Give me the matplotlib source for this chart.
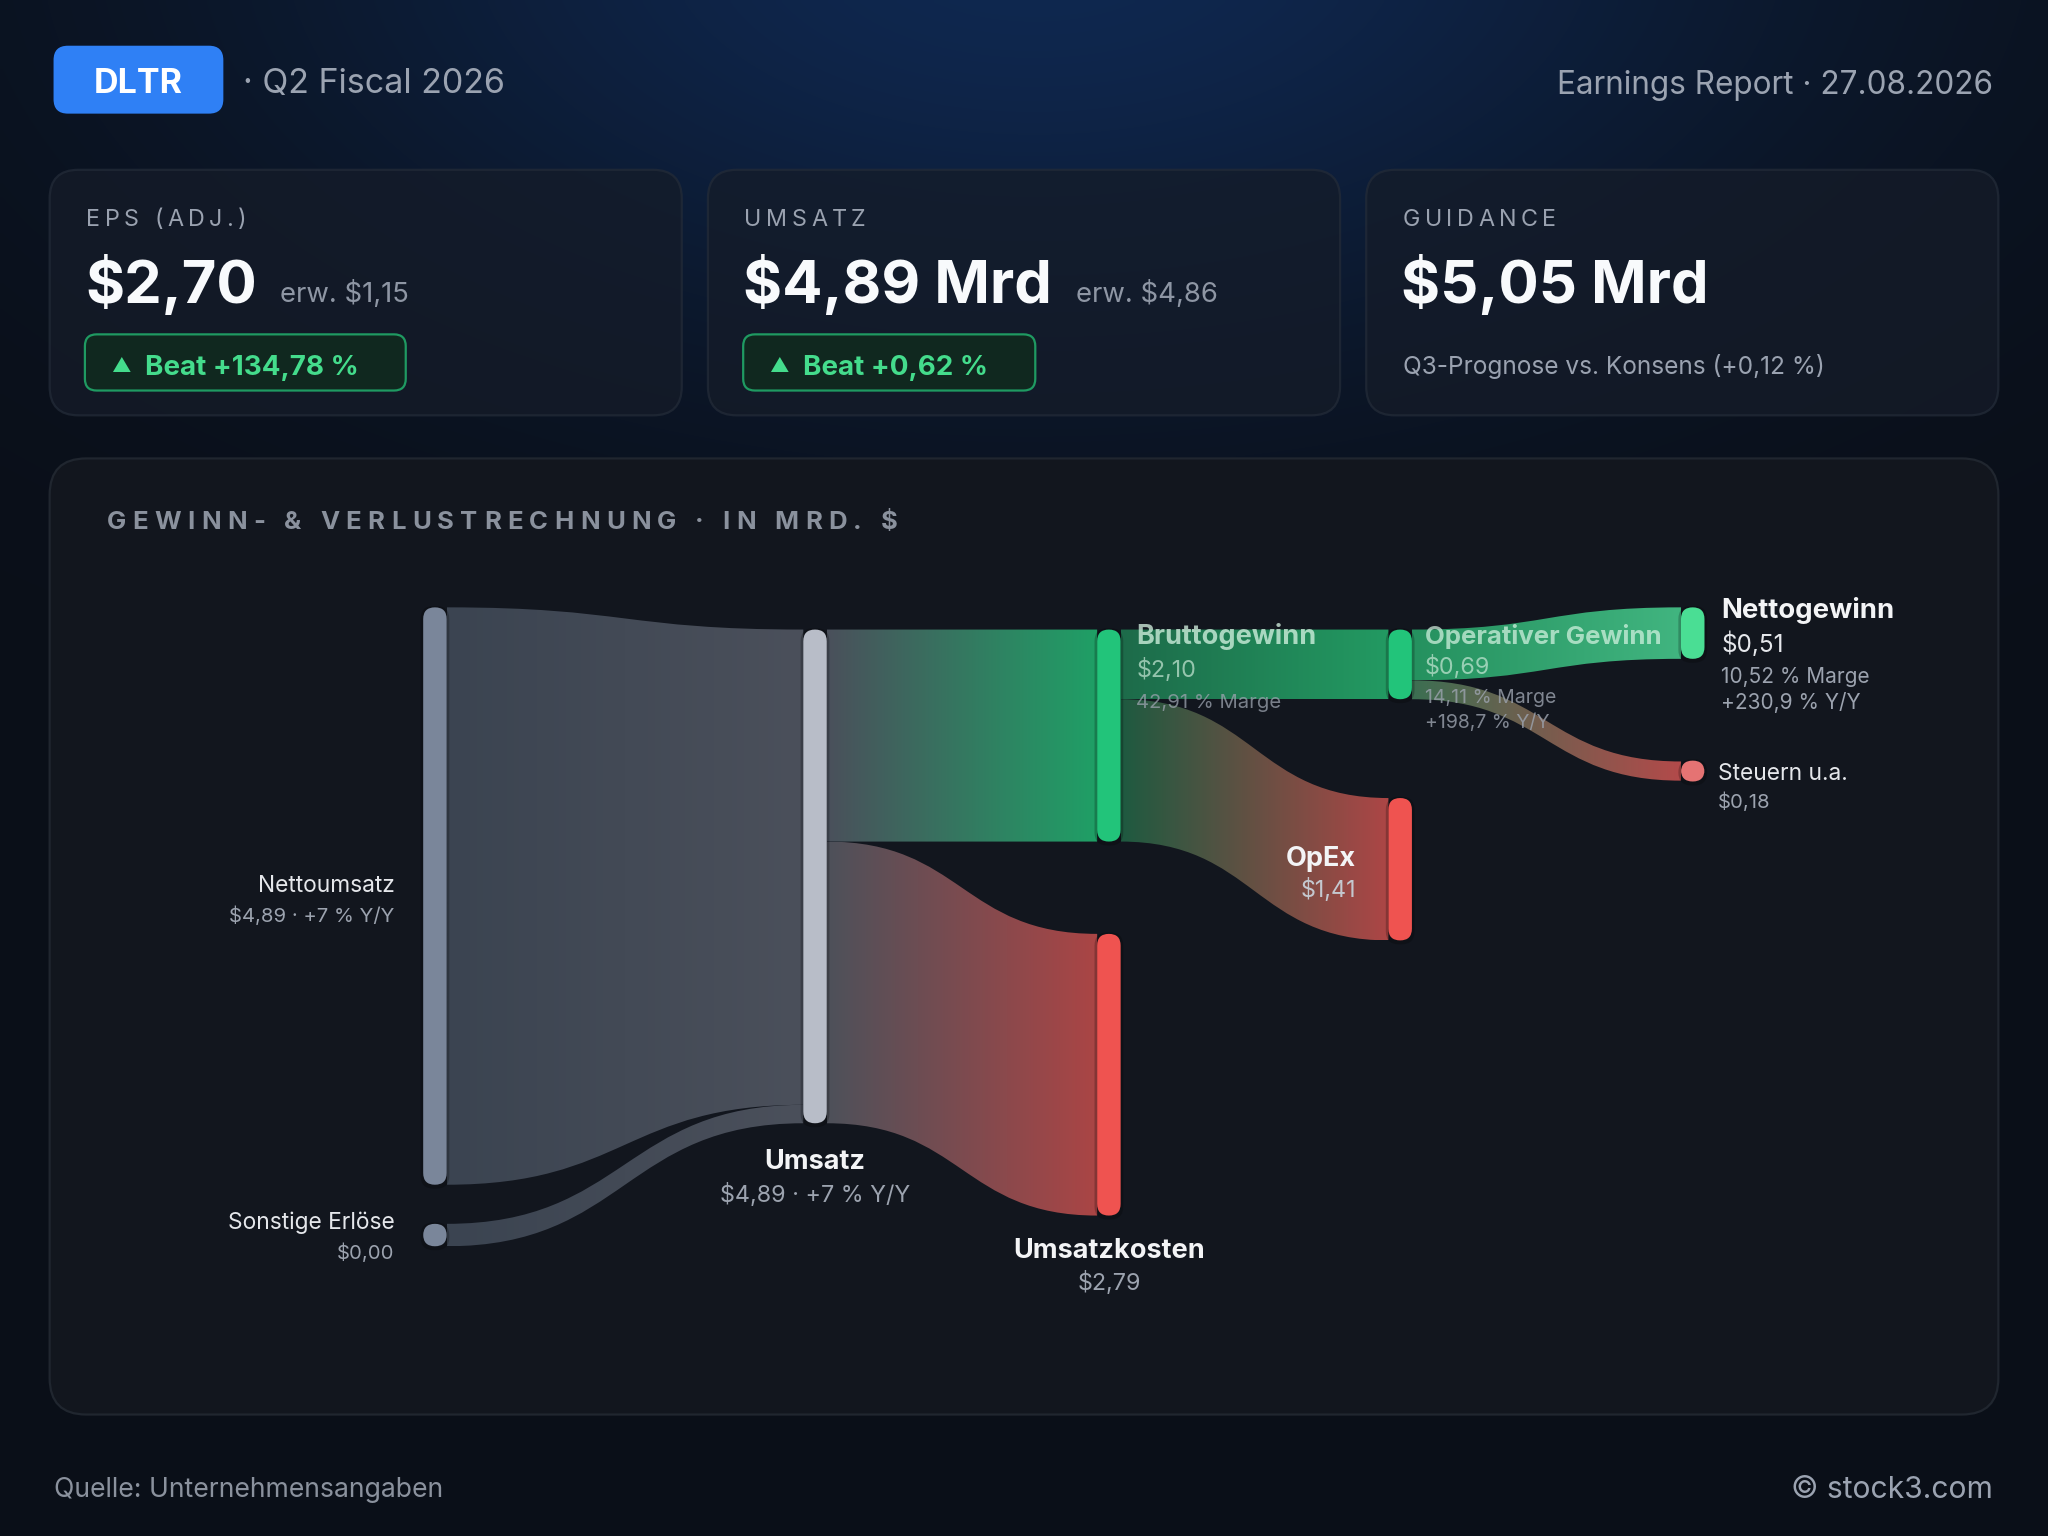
import numpy as np
import matplotlib
matplotlib.use("Agg")
import matplotlib.pyplot as plt
from matplotlib.patches import FancyBboxPatch, PathPatch
from matplotlib.path import Path
from matplotlib.colors import to_rgb
from matplotlib.font_manager import FontProperties

# ---------------- data ----------------
ticker = "DLTR"
period = "Q2 Fiscal 2026"
report_date = "27.08.2026"

kpi_titles = ["EPS (ADJ.)", "UMSATZ", "GUIDANCE"]
kpi_values = [2.70, 4.89, 5.05]
kpi_units = ["", " Mrd", " Mrd"]
kpi_estimates = [1.15, 4.86, None]
kpi_beats = [134.78, 0.62, None]
guidance_vs_consensus = 0.12

node_names = ["Nettoumsatz", "Sonstige Erlöse", "Umsatz", "Bruttogewinn", "Umsatzkosten",
              "Operativer Gewinn", "OpEx", "Nettogewinn", "Steuern u.a."]
node_values = [4.89, 0.00, 4.89, 2.10, 2.79, 0.69, 1.41, 0.51, 0.18]
link_source = [0, 1, 2, 2, 3, 3, 5, 5]
link_target = [2, 2, 3, 4, 5, 6, 7, 8]
link_values = [4.89, 0.00, 2.10, 2.79, 0.69, 1.41, 0.51, 0.18]
node_yoy = {0: "+7", 2: "+7", 5: "+198,7", 7: "+230,9"}
node_margin = {3: 42.91, 5: 14.11, 7: 10.52}

source_note = "Quelle: Unternehmensangaben"
brand = "© stock3.com"

# ---------------- layout / style ----------------
W, H = 1568, 1176
S = 2048 / W
FONT = ["Inter", "DejaVu Sans"]
plt.rcParams["font.family"] = FONT

fig = plt.figure(figsize=(20.48, 15.36), dpi=100)
ax = fig.add_axes([0, 0, 1, 1])
ax.set_xlim(0, W)
ax.set_ylim(H, 0)
ax.set_autoscale_on(False)
ax.axis("off")


def de(v, d=2):
    return f"{v:.{d}f}".replace(".", ",")


# background with a blue glow at the top
yy, xx = np.mgrid[0:H:4, 0:W:4]
base = np.array(to_rgb("#0a0f18"))
glow = np.array(to_rgb("#0f2850"))
g = np.exp(-(((xx - 790) / 600.0) ** 2 + ((yy + 50) / 320.0) ** 2))
bg = base[None, None, :] * (1 - g[..., None]) + glow[None, None, :] * g[..., None]
ax.imshow(bg, extent=[0, W, H, 0], aspect="auto", zorder=0, interpolation="bilinear")


def rbox(x, y, w, h, r, fc, ec="none", lw=0, alpha=1, z=1):
    p = FancyBboxPatch((x, y), w, h, boxstyle=f"round,pad=0,rounding_size={r}",
                       fc=fc, ec=ec, lw=lw, alpha=alpha, zorder=z)
    ax.add_patch(p)
    return p


renderer = fig.canvas.get_renderer()


def spaced(x, y, s, spacing, **kw):
    fp = FontProperties(family=FONT, size=kw.get("fontsize", 12), weight=kw.get("fontweight", "normal"))
    wxx = renderer.get_text_width_height_descent("xx", fp, ismath=False)[0]
    cx = x
    for ch in s:
        ax.text(cx, y, ch, ha="left", va="baseline", zorder=5, **kw)
        w = renderer.get_text_width_height_descent("x" + ch + "x", fp, ismath=False)[0] - wxx
        cx += w / S + spacing


# ---------------- header ----------------
rbox(41, 35, 130, 52, 11, "#2f80f5", z=2)
ax.text(106, 71, ticker, ha="center", va="baseline", fontsize=24.5, fontweight="bold", color="white", zorder=5)
ax.text(186, 71, "· " + period, ha="left", va="baseline", fontsize=24.5, color="#9ba3b1", zorder=5)
ax.text(1526, 72, "Earnings Report · " + report_date, ha="right", va="baseline", fontsize=22.7,
        color="#9ba3b1", zorder=5)

# ---------------- KPI cards ----------------
card_x = [38, 542, 1046]
for i in range(3):
    cx = card_x[i]
    rbox(cx, 130, 484, 188, 22, "#151c29", ec="#232b38", lw=1.6, alpha=0.75, z=2)
    tx = cx + 28
    spaced(tx, 173, kpi_titles[i], 3.4, fontsize=16.8, color="#9aa2b0")
    val = "$" + de(kpi_values[i]) + kpi_units[i]
    t = ax.text(tx - 1, 232, val, ha="left", va="baseline", fontsize=43, fontweight="bold",
                color="#f8fafc", zorder=5)
    if kpi_estimates[i] is not None:
        bb = t.get_window_extent(renderer)
        xe = bb.x1 / S + 18
        ax.text(xe, 231, "erw. $" + de(kpi_estimates[i]), ha="left", va="baseline", fontsize=19.8,
                color="#8e96a4", zorder=5)
    if kpi_beats[i] is not None:
        ax.text(tx + 19, 285, "▲", ha="left", va="baseline", fontsize=14, color="#44dc8c", zorder=6)
        bt = ax.text(tx + 45, 287, "Beat +" + de(kpi_beats[i]) + " %", ha="left", va="baseline",
                     fontsize=20, fontweight="bold", color="#44dc8c", zorder=6)
        bb = bt.get_window_extent(renderer)
        bw = (bb.x1 / S) - tx + 37
        rbox(tx - 1, 256, bw, 43, 9, "#10281f", ec="#1f9a62", lw=1.6, z=4)
    else:
        ax.text(tx, 286, f"Q3-Prognose vs. Konsens (+{de(guidance_vs_consensus)} %)", ha="left",
                va="baseline", fontsize=17.6, color="#9aa2b0", zorder=5)

# ---------------- Sankey panel ----------------
rbox(38, 351, 1492, 732, 28, "#12161e", ec="#20262f", lw=1.6, z=1)
spaced(82, 405, "GEWINN- & VERLUSTRECHNUNG · IN MRD. $", 4.85, fontsize=18.5, fontweight="bold",
       color="#8a919d")

node_col = [0, 0, 1, 2, 2, 3, 3, 4, 4]
col_x = [324, 615, 840, 1063, 1287]
col_scale = [90.4, 77.3, 77.3, 77.3, 77.3]
node_top = [465, 937, 482, 482, 715, 482, 611, 465, 583]
node_colors = ["#7a869a", "#7a869a", "#b8bdc8", "#22c47a", "#ef5350", "#22c47a", "#ef5350",
               "#4ade94", "#e57373"]
link_c0 = ["#3b4451", "#3b4451", "#4a505b", "#4d515a", "#1d6b4a", "#1e5a40", "#25915f", "#3c6f52"]
link_c1 = ["#4b505b", "#4b505b", "#1fa066", "#ab4545", "#239a62", "#ad4646", "#41b580", "#b34a4a"]
NODE_W = 18
MIN_V = 0.19

n = len(node_names)
veff = [max(v, MIN_V) for v in link_values]
node_h = [max(node_values[i], MIN_V) * col_scale[node_col[i]] for i in range(n)]
out_sum = [sum(veff[k] for k in range(len(veff)) if link_source[k] == i) for i in range(n)]
in_sum = [sum(veff[k] for k in range(len(veff)) if link_target[k] == i) for i in range(n)]
src_off = [0.0] * n
tgt_off = [0.0] * n

for k in range(len(link_values)):
    s, t = link_source[k], link_target[k]
    ws = veff[k] / out_sum[s] * node_h[s]
    wt = veff[k] / in_sum[t] * node_h[t]
    y0t = node_top[s] + src_off[s]
    y0b = y0t + ws
    y1t = node_top[t] + tgt_off[t]
    y1b = y1t + wt
    src_off[s] += ws
    tgt_off[t] += wt
    x0 = col_x[node_col[s]] + NODE_W
    x1 = col_x[node_col[t]]
    xm = (x0 + x1) / 2
    verts = [(x0, y0t), (xm, y0t), (xm, y1t), (x1, y1t), (x1, y1b), (xm, y1b), (xm, y0b), (x0, y0b),
             (x0, y0t)]
    codes = [Path.MOVETO, Path.CURVE4, Path.CURVE4, Path.CURVE4, Path.LINETO, Path.CURVE4,
             Path.CURVE4, Path.CURVE4, Path.CLOSEPOLY]
    patch = PathPatch(Path(verts, codes), fc="none", ec="none", zorder=3)
    ax.add_patch(patch)
    gg = np.linspace(0, 1, 256)[None, :, None]
    c0 = np.array(to_rgb(link_c0[k]))[None, None, :]
    c1 = np.array(to_rgb(link_c1[k]))[None, None, :]
    img = c0 * (1 - gg) + c1 * gg
    ymin, ymax = min(y0t, y1t), max(y0b, y1b)
    im = ax.imshow(img, extent=[x0, x1, ymax, ymin], aspect="auto", zorder=3, interpolation="bilinear")
    im.set_clip_path(patch)

for i in range(n):
    x = col_x[node_col[i]]
    h = max(node_h[i], 16)
    y = node_top[i] + node_h[i] / 2 - h / 2
    rbox(x - 2, y - 1, NODE_W + 4, h + 4, 10, "black", alpha=0.22, z=4)
    rbox(x, y, NODE_W, h, 9, node_colors[i], z=5)

WHITE = "#f3f4f6"
GRAY = "#9ca3af"
LAB = 19.5
VAL = 16.3


def val(i):
    return "$" + de(node_values[i])


# Nettoumsatz / Sonstige Erlöse (left, right-aligned)
ax.text(302, 683, node_names[0], ha="right", va="baseline", fontsize=16.4, color="#e5e7eb", zorder=6)
ax.text(302, 706, val(0) + " · " + node_yoy[0] + " % Y/Y", ha="right", va="baseline", fontsize=14.6,
        color=GRAY, zorder=6)
ax.text(302, 941, node_names[1], ha="right", va="baseline", fontsize=16.4, color="#e5e7eb", zorder=6)
ax.text(302, 964, val(1), ha="right", va="baseline", fontsize=14.6, color=GRAY, zorder=6)
# Umsatz
ax.text(624, 895, node_names[2], ha="center", va="baseline", fontsize=LAB, fontweight="bold",
        color=WHITE, zorder=6)
ax.text(624, 920, val(2) + " · " + node_yoy[2] + " % Y/Y", ha="center", va="baseline", fontsize=16.8,
        color=GRAY, zorder=6)
# Umsatzkosten
ax.text(849, 963, node_names[4], ha="center", va="baseline", fontsize=LAB, fontweight="bold",
        color=WHITE, zorder=6)
ax.text(849, 988, val(4), ha="center", va="baseline", fontsize=VAL + 0.5, color=GRAY, zorder=6)
# Bruttogewinn (over link)
ax.text(870, 493, node_names[3], ha="left", va="baseline", fontsize=LAB, fontweight="bold",
        color="#d8f5e4", alpha=0.75, zorder=6)
ax.text(870, 518, val(3), ha="left", va="baseline", fontsize=VAL + 0.5, color="#c8e8d6", alpha=0.7,
        zorder=6)
ax.text(870, 542, de(node_margin[3]) + " % Marge", ha="left", va="baseline", fontsize=14.6,
        color=GRAY, alpha=0.75, zorder=6)
# OpEx
ax.text(1038, 663, node_names[6], ha="right", va="baseline", fontsize=LAB, fontweight="bold",
        color=WHITE, zorder=6)
ax.text(1038, 687, val(6), ha="right", va="baseline", fontsize=VAL + 0.5, color="#c4c8cf", zorder=6)
# Operativer Gewinn
ax.text(1091, 493, node_names[5], ha="left", va="baseline", fontsize=18.6, fontweight="bold",
        color="#d8f5e4", alpha=0.7, zorder=6)
ax.text(1091, 516, val(5), ha="left", va="baseline", fontsize=VAL + 0.5, color="#c8e8d6", alpha=0.7,
        zorder=6)
ax.text(1091, 538, de(node_margin[5]) + " % Marge", ha="left", va="baseline", fontsize=14,
        color=GRAY, alpha=0.8, zorder=6)
ax.text(1091, 557, node_yoy[5] + " % Y/Y", ha="left", va="baseline", fontsize=14, color=GRAY,
        alpha=0.8, zorder=6)
# Nettogewinn
ax.text(1318, 473, node_names[7], ha="left", va="baseline", fontsize=LAB + 0.3, fontweight="bold",
        color=WHITE, zorder=6)
ax.text(1318, 499, val(7), ha="left", va="baseline", fontsize=17.5, color="#e5e7eb", zorder=6)
ax.text(1318, 523, de(node_margin[7]) + " % Marge", ha="left", va="baseline", fontsize=15,
        color=GRAY, zorder=6)
ax.text(1318, 543, node_yoy[7] + " % Y/Y", ha="left", va="baseline", fontsize=15, color=GRAY, zorder=6)
# Steuern
ax.text(1315, 597, node_names[8], ha="left", va="baseline", fontsize=16.4, color="#e5e7eb", zorder=6)
ax.text(1315, 619, val(8), ha="left", va="baseline", fontsize=14.6, color=GRAY, zorder=6)

# ---------------- footer ----------------
ax.text(41, 1146, source_note, ha="left", va="baseline", fontsize=19.2, color="#8a919d", zorder=5)
ax.text(1526, 1147, brand, ha="right", va="baseline", fontsize=21.6, color="#9ba3b1", zorder=5)

fig.savefig("out.png", dpi=100, facecolor="#0a0f18")
